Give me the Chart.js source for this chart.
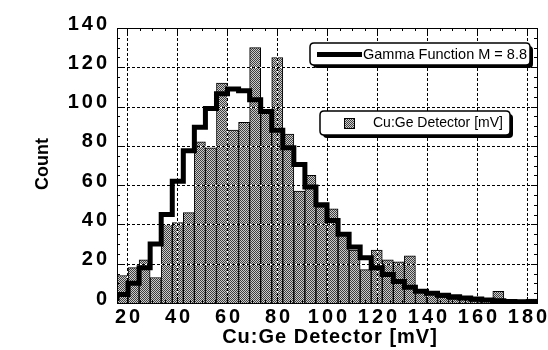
<!DOCTYPE html>
<html>
<head>
<meta charset="utf-8">
<script src="https://cdn.jsdelivr.net/npm/chart.js@4.4.1/dist/chart.umd.min.js"></script>
<style>
    html, body { margin: 0; padding: 0; background: #fff; }
</style>
</head>
<body>
<canvas id="histChart" width="548" height="350"></canvas>
<script>
// Histogram of the Cu:Ge detector signal, bins from 16 to 184 mV
const binStart = 16;
const binEnd = 184;
const detectorCounts = [14, 18, 22, 13, 40, 41, 46, 82, 79, 112, 88, 92, 130, 97, 125, 86, 57, 65, 49, 48,
    35, 27, 17, 27, 22, 21, 24, 6, 5, 3, 2, 2, 1, 1, 6, 1, 1, 2];
// Gamma function fit (M = 8.8), one value per bin
const gammaFit = [1, 4.3, 10, 18, 30, 45, 62, 77.5, 89.5, 99, 106.5, 109, 108, 103.5, 97.5, 88, 79, 70.5, 59, 50,
    42, 35, 28.5, 23, 18, 14.5, 11, 8, 6, 5, 4, 3.2, 2.5, 2, 1.5, 1.1, 0.8, 0.6];
const xTickValues = [20, 40, 60, 80, 100, 120, 140, 160, 180];
const yTickValues = [0, 20, 40, 60, 80, 100, 120, 140];
const minorStep = 5;

const FONT = '"Liberation Sans", Arial, Helvetica, sans-serif';

/**
 * Grey halftone fill like the printed bars
 */
function makeHalftone(ctx) {
    const c = document.createElement('canvas');
    c.width = 2;
    c.height = 2;
    const g = c.getContext('2d');
    g.fillStyle = '#cccccc';
    g.fillRect(0, 0, 2, 2);
    g.fillStyle = '#3e3e3e';
    g.fillRect(0, 0, 1, 1);
    g.fillRect(1, 1, 1, 1);
    return ctx.createPattern(c, 'repeat');
}

function roundRectPath(ctx, x, y, w, h, r) {
    ctx.beginPath();
    ctx.moveTo(x + r, y);
    ctx.lineTo(x + w - r, y);
    ctx.quadraticCurveTo(x + w, y, x + w, y + r);
    ctx.lineTo(x + w, y + h - r);
    ctx.quadraticCurveTo(x + w, y + h, x + w - r, y + h);
    ctx.lineTo(x + r, y + h);
    ctx.quadraticCurveTo(x, y + h, x, y + h - r);
    ctx.lineTo(x, y + r);
    ctx.quadraticCurveTo(x, y, x + r, y);
    ctx.closePath();
}

function drawLegendBox(ctx, x, y, w, h) {
    ctx.fillStyle = '#000';
    roundRectPath(ctx, x + 3, y + 3, w, h, 4);
    ctx.fill();
    ctx.fillStyle = '#fff';
    roundRectPath(ctx, x, y, w, h, 4);
    ctx.fill();
    ctx.lineWidth = 1.5;
    ctx.strokeStyle = '#000';
    ctx.stroke();
}

const canvas = document.getElementById('histChart');
const ctx = canvas.getContext('2d');
const halftone = makeHalftone(ctx);

const binWidth = (binEnd - binStart) / detectorCounts.length;
const barData = detectorCounts.map((c, i) => ({ x: binStart + (i + 0.5) * binWidth, y: c }));
const stepData = gammaFit.map((v, i) => ({ x: binStart + i * binWidth, y: v }));
stepData.push({ x: binEnd, y: gammaFit[gammaFit.length - 1] });

// dotted grid drawn over the bars, under the gamma step line
const gridOverBars = {
    id: 'gridOverBars',
    beforeDraw(chart) {
        chart.ctx.letterSpacing = '3px';
    },
    afterDatasetDraw(chart, args) {
        if (args.meta.type !== 'bar') return;
        const c = chart.ctx;
        const area = chart.chartArea;
        const xs = chart.scales.x;
        const ys = chart.scales.y;
        const lines = [];
        xTickValues.forEach(v => {
            const px = Math.round(xs.getPixelForValue(v)) + 0.5;
            lines.push([px, area.top, px, area.bottom]);
        });
        yTickValues.forEach(v => {
            if (v <= ys.min || v >= ys.max) return;
            const py = Math.round(ys.getPixelForValue(v)) + 0.5;
            lines.push([area.left, py, area.right, py]);
        });
        c.save();
        c.lineWidth = 1;
        lines.forEach(l => {
            c.beginPath();
            c.moveTo(l[0], l[1]);
            c.lineTo(l[2], l[3]);
            c.setLineDash([2, 3]);
            c.lineDashOffset = -3;
            c.strokeStyle = '#fff';
            c.stroke();
            c.setLineDash([3, 2]);
            c.lineDashOffset = 0;
            c.strokeStyle = '#000';
            c.stroke();
        });
        c.restore();
    },
    afterDraw(chart) {
        const c = chart.ctx;
        const area = chart.chartArea;
        const xs = chart.scales.x;
        const ys = chart.scales.y;
        c.save();
        c.letterSpacing = '0px';

        // frame
        c.strokeStyle = '#000';
        c.lineWidth = 1;
        c.strokeRect(Math.round(area.left) + 0.5, Math.round(area.top) + 0.5,
            Math.round(area.right - area.left), Math.round(area.bottom - area.top));

        // inward tick marks on all four sides
        c.beginPath();
        for (let v = Math.ceil(xs.min / minorStep) * minorStep; v <= xs.max; v += minorStep) {
            const px = Math.round(xs.getPixelForValue(v)) + 0.5;
            const len = v % 20 === 0 ? 6 : 3;
            c.moveTo(px, area.top);
            c.lineTo(px, area.top + len);
            c.moveTo(px, area.bottom);
            c.lineTo(px, area.bottom - len);
        }
        for (let v = Math.ceil(ys.min / minorStep) * minorStep; v <= ys.max; v += minorStep) {
            const py = Math.round(ys.getPixelForValue(v)) + 0.5;
            const len = v % 20 === 0 ? 6 : 3;
            c.moveTo(area.left, py);
            c.lineTo(area.left + len, py);
            c.moveTo(area.right, py);
            c.lineTo(area.right - len, py);
        }
        c.stroke();

        // axis titles
        c.fillStyle = '#000';
        c.textAlign = 'center';
        c.textBaseline = 'middle';
        c.font = 'bold 20px ' + FONT;
        c.letterSpacing = '1px';
        c.fillText('Cu:Ge Detector [mV]', (area.left + area.right) / 2 + 3, 337);
        c.letterSpacing = '0px';
        c.font = 'bold 18px ' + FONT;
        c.save();
        c.translate(43, 164);
        c.rotate(-Math.PI / 2);
        c.fillText('Count', 0, 0);
        c.restore();

        // legend: gamma function
        drawLegendBox(c, 310, 43, 220, 22);
        c.beginPath();
        c.lineWidth = 5;
        c.moveTo(317, 54.5);
        c.lineTo(362, 54.5);
        c.stroke();
        c.font = '14.5px ' + FONT;
        c.textAlign = 'left';
        c.fillStyle = '#000';
        c.fillText('Gamma Function M = 8.8', 363, 55);

        // legend: detector histogram
        drawLegendBox(c, 320, 111, 190, 24);
        c.fillStyle = halftone;
        c.fillRect(344, 118, 10, 10);
        c.lineWidth = 1;
        c.strokeRect(344.5, 118.5, 10, 10);
        c.fillStyle = '#000';
        c.font = '14px ' + FONT;
        c.fillText('Cu:Ge Detector [mV]', 373, 123.5);
        c.restore();
    }
};

new Chart(ctx, {
    type: 'bar',
    data: {
        datasets: [{
            type: 'bar',
            label: 'Cu:Ge Detector [mV]',
            data: barData,
            backgroundColor: halftone,
            borderColor: '#000',
            borderWidth: 1,
            barPercentage: 1,
            categoryPercentage: 1,
            order: 2
        }, {
            type: 'line',
            label: 'Gamma Function M = 8.8',
            data: stepData,
            borderColor: '#000',
            borderWidth: 5,
            stepped: 'after',
            pointRadius: 0,
            fill: false,
            order: 1
        }]
    },
    options: {
        responsive: false,
        animation: false,
        devicePixelRatio: 1,
        layout: { padding: { top: 28, right: 11, left: 0, bottom: 0 } },
        plugins: {
            legend: { display: false },
            tooltip: { enabled: false }
        },
        scales: {
            x: {
                type: 'linear',
                offset: false,
                min: binStart,
                max: binEnd,
                afterBuildTicks: scale => { scale.ticks = xTickValues.map(v => ({ value: v })); },
                afterFit: scale => {
                    scale.height = 47;
                    scale.paddingLeft = 0;
                    scale.paddingRight = 0;
                },
                grid: { display: false, drawTicks: false },
                border: { display: false },
                ticks: {
                    autoSkip: false,
                    maxRotation: 0,
                    padding: 2,
                    labelOffset: 2,
                    color: '#000',
                    font: { family: FONT, size: 20, weight: 'bold' }
                }
            },
            y: {
                min: 0,
                max: 140,
                afterBuildTicks: scale => { scale.ticks = yTickValues.map(v => ({ value: v })); },
                afterFit: scale => {
                    scale.width = 117;
                    scale.paddingTop = 0;
                    scale.paddingBottom = 0;
                },
                grid: { display: false, drawTicks: false },
                border: { display: false },
                ticks: {
                    padding: 7,
                    labelOffset: -4,
                    color: '#000',
                    font: { family: FONT, size: 20, weight: 'bold' }
                }
            }
        }
    },
    plugins: [gridOverBars]
});
</script>
</body>
</html>
